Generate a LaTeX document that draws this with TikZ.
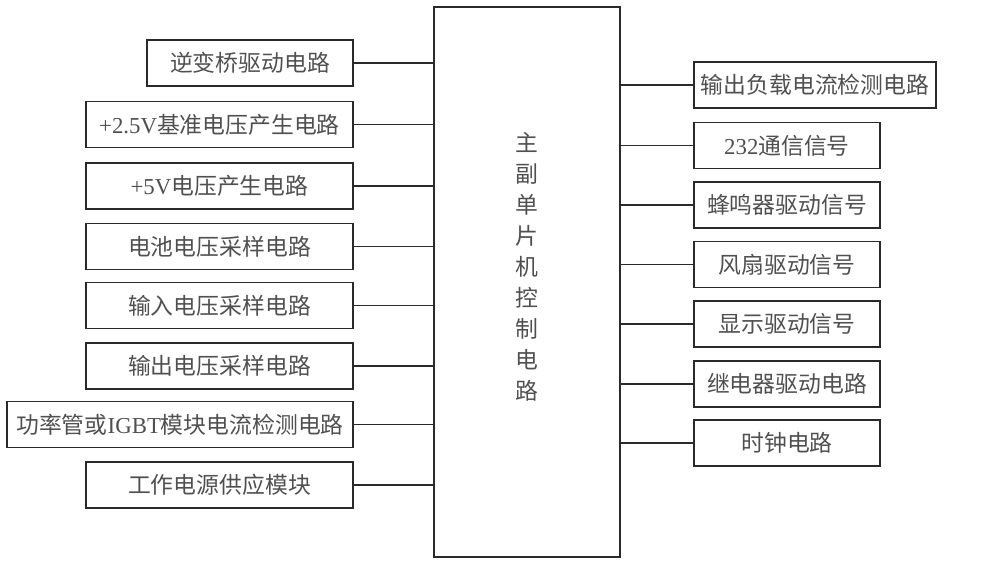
\documentclass[tikz,border=0pt]{standalone}
\usepackage{fontspec}
\setmainfont{Liberation Serif}
\newfontfamily\cjk{Noto Sans CJK SC}
\definecolor{linegray}{HTML}{2A2A2A}
\definecolor{textgray}{HTML}{505050}
\begin{document}
\begin{tikzpicture}[x=0.02cm,y=-0.02cm,
  box/.style={draw=linegray,line width=0.9pt,rectangle,inner sep=0pt,minimum height=46*0.02cm,
    font=\fontsize{13}{15}\selectfont,text=textgray},
  wl/.style={minimum width=267*0.02cm},
  conn/.style={draw=linegray,line width=0.9pt}]
\useasboundingbox (0,0) rectangle (1000,564);
\node[box,minimum width=186*0.02cm,minimum height=550*0.02cm] (main) at (527,282) {};
\node[text=textgray,font=\fontsize{13}{17.6}\selectfont\cjk,align=center] (mt) at (527,267)
  {主\\副\\单\\片\\机\\控\\制\\电\\路};
\node[box,minimum width=206*0.02cm] (L1) at (250,63) {\cjk 逆变桥驱动电路};
\node[box,wl] (L2) at (219.5,124.5) {+2.5V{\cjk 基准电压产生电路}};
\node[box,wl] (L3) at (219.5,186) {+5V{\cjk 电压产生电路}};
\node[box,wl] (L4) at (219.5,246.5) {\cjk 电池电压采样电路};
\node[box,wl] (L5) at (219.5,305.5) {\cjk 输入电压采样电路};
\node[box,wl] (L6) at (219.5,366) {\cjk 输出电压采样电路};
\node[box,minimum width=346*0.02cm] (L7) at (180,424.5) {{\cjk 功率管或}IGBT{\cjk 模块电流检测电路}};
\node[box,wl] (L8) at (219.5,485) {\cjk 工作电源供应模块};
\node[box,minimum width=242*0.02cm] (R1) at (815,85) {\cjk 输出负载电流检测电路};
\node[box,minimum width=186*0.02cm] (R2) at (787,145.5) {232{\cjk 通信信号}};
\node[box,minimum width=186*0.02cm] (R3) at (787,205) {\cjk 蜂鸣器驱动信号};
\node[box,minimum width=186*0.02cm] (R4) at (787,264.5) {\cjk 风扇驱动信号};
\node[box,minimum width=186*0.02cm] (R5) at (787,324) {\cjk 显示驱动信号};
\node[box,minimum width=186*0.02cm] (R6) at (787,384) {\cjk 继电器驱动电路};
\node[box,minimum width=186*0.02cm] (R7) at (787,443) {\cjk 时钟电路};
\foreach \n in {L1,L2,L3,L4,L5,L6,L7,L8}
  \draw[conn] (\n.east) -- (\n.east -| main.west);
\foreach \n in {R1,R2,R3,R4,R5,R6,R7}
  \draw[conn] (\n.west -| main.east) -- (\n.west);
\end{tikzpicture}
\end{document}
